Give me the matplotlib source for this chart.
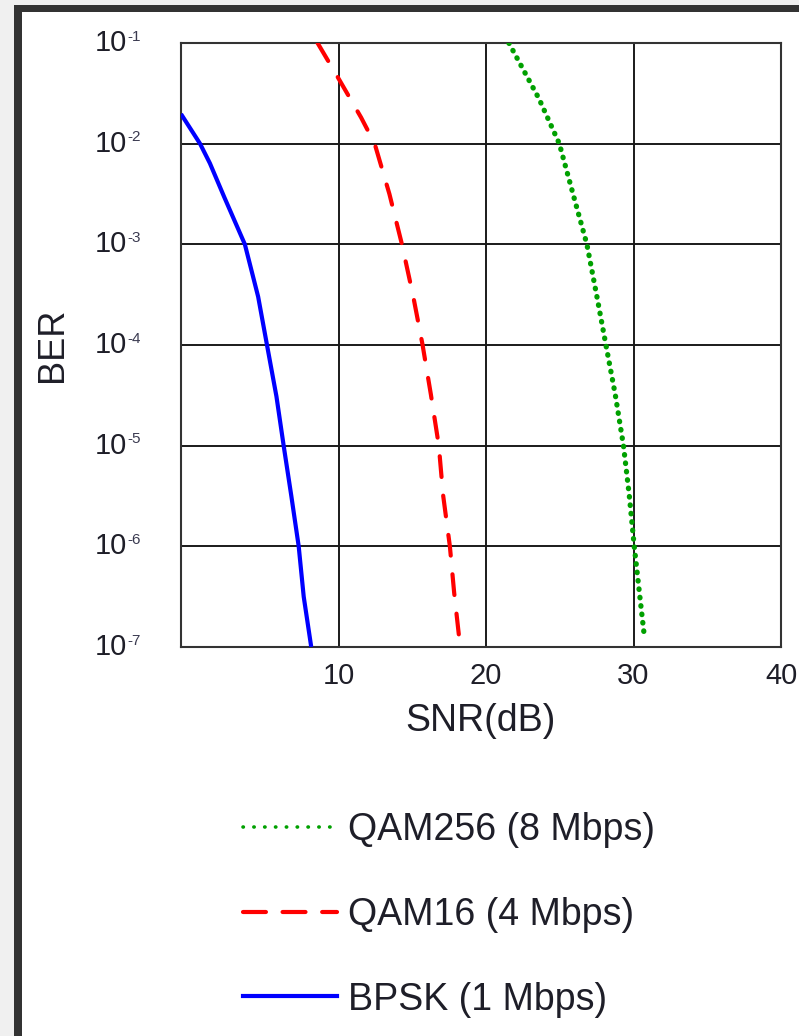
import numpy as np
import matplotlib
matplotlib.use('Agg')
import matplotlib.pyplot as plt
from matplotlib.patches import Rectangle
from matplotlib.lines import Line2D

plt.rcParams['font.family'] = ['Liberation Sans', 'DejaVu Sans']

# values (SNR in dB, BER as log10)
bpsk_snr = [-0.68, 0.61, 1.28, 2.25, 3.65, 4.55, 5.15, 5.79, 6.28, 6.80, 7.30, 7.64, 8.15]
bpsk_log = [-1.705, -2.0, -2.195, -2.53, -3.0, -3.52, -4.0, -4.51, -5.0, -5.5, -6.0, -6.5, -7.0]

qam16_snr = [8.58, 10.07, 11.53, 12.45, 13.45, 14.3, 15.07, 15.7, 16.26, 16.8, 17.09, 17.55, 17.84, 18.25]
qam16_log = [-1.0, -1.37, -1.74, -2.0, -2.5, -3.0, -3.52, -4.0, -4.49, -5.0, -5.49, -6.0, -6.46, -7.0]

qam256_snr = [21.55, 23.58, 24.97, 25.9, 26.84, 27.52, 28.13, 28.76, 29.32, 29.71, 30.05, 30.4, 30.74]
qam256_log = [-1.0, -1.55, -2.0, -2.5, -3.0, -3.52, -4.0, -4.49, -5.0, -5.49, -6.0, -6.46, -6.9]

labels = ['QAM256 (8 Mbps)', 'QAM16 (4 Mbps)', 'BPSK (1 Mbps)']
x_ticks = [10, 20, 30, 40]
y_exps = [-1, -2, -3, -4, -5, -6, -7]

W, H = 799, 1036
fig = plt.figure(figsize=(W / 100, H / 100), dpi=100)
fig.subplots_adjust(left=181 / W, right=781 / W, top=1 - 43 / H, bottom=1 - 647 / H)
ax = fig.add_subplot(111)

# screenshot frame
def px_rect(x0, y0, x1, y1, color):
    fig.add_artist(Rectangle((x0 / W, 1 - y1 / H), (x1 - x0) / W, (y1 - y0) / H,
                             transform=fig.transFigure, color=color, lw=0, zorder=-5))

px_rect(0, 0, W, 5, '#f0f0f0')
px_rect(0, 0, 14, H, '#f0f0f0')
px_rect(14, 5, W, 12, '#333333')
px_rect(14, 5, 22, H, '#333333')

text_color = '#1e1e28'

ax.plot(qam256_snr, 10.0 ** np.array(qam256_log), color='#00a000', lw=3.8,
        linestyle=(0, (0.1, 1.5)), dash_capstyle='round', zorder=3)
ax.plot(qam16_snr, 10.0 ** np.array(qam16_log), color='#ff0000', lw=3.0,
        linestyle=(0, (5.0, 4.5)), dash_capstyle='round', zorder=3)
ax.plot(bpsk_snr, 10.0 ** np.array(bpsk_log), color='#0000ff', lw=3.0,
        solid_capstyle='butt', solid_joinstyle='round', zorder=3)

ax.set_yscale('log')
ax.set_ylim(1e-7, 1e-1)
ax.set_xlim(-0.68, 39.9)

ax.set_xticks(x_ticks)
ax.set_xticklabels([str(t) for t in x_ticks], fontsize=21, color=text_color)
ax.set_yticks([10.0 ** e for e in y_exps])
ax.set_yticklabels([])
ax.yaxis.set_minor_locator(matplotlib.ticker.NullLocator())
ax.tick_params(axis='both', length=0)
ax.tick_params(axis='x', pad=11)

ax.grid(True, color='#1a1a1a', lw=1.4)
ax.set_axisbelow(True)
for s in ax.spines.values():
    s.set_color('#333333')
    s.set_linewidth(1.5)

# y tick labels as 10 with small exponent
for e in y_exps:
    ax.annotate('10', xy=(0, 10.0 ** e), xycoords=('axes fraction', 'data'),
                xytext=(-39, 0), textcoords='offset points', ha='right', va='center',
                fontsize=21, color=text_color, annotation_clip=False)
    ax.annotate(str(e), xy=(0, 10.0 ** e), xycoords=('axes fraction', 'data'),
                xytext=(-38.5, 4.5), textcoords='offset points', ha='left', va='center',
                fontsize=11, color='#3a3a50', annotation_clip=False)

ax.set_xlabel('SNR(dB)', fontsize=27, color=text_color)
ax.xaxis.set_label_coords(0.5, -0.093)
ax.set_ylabel('BER', fontsize=26, color=text_color)
ax.yaxis.set_label_coords(-0.185, 0.5)

handles = [
    Line2D([], [], color='#00a000', lw=2.6, linestyle=(0, (0.1, 2.9)), dash_capstyle='round'),
    Line2D([], [], color='#ff0000', lw=3.0, linestyle=(0, (5.5, 4)), dash_capstyle='round'),
    Line2D([], [], color='#0000ff', lw=3.0),
]
fig.legend(handles, labels, loc='upper left', bbox_to_anchor=(243 / W, 1 - 812 / H),
           frameon=False, fontsize=27, handlelength=2.5, handletextpad=0.3,
           labelspacing=1.3, borderpad=0, borderaxespad=0, labelcolor=text_color)

fig.savefig('out.png', dpi=100)
